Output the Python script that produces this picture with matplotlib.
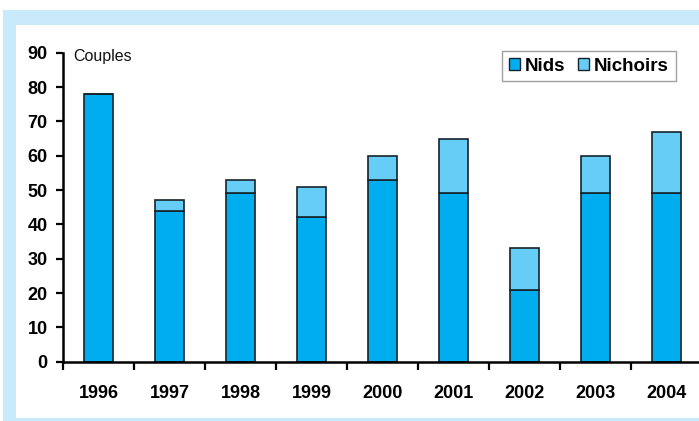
import matplotlib
matplotlib.use("Agg")
import matplotlib.pyplot as plt
from matplotlib.patches import Rectangle, Patch
import numpy as np

years = ["1996", "1997", "1998", "1999", "2000", "2001", "2002", "2003", "2004"]
nids = [78, 44, 49, 42, 53, 49, 21, 49, 49]
nichoirs = [0, 3, 4, 9, 7, 16, 12, 11, 18]
yticks = [0, 10, 20, 30, 40, 50, 60, 70, 80, 90]

W, H = 699, 421
fig = plt.figure(figsize=(W / 100, H / 100), dpi=100)
fig.patches.append(Rectangle((3 / W, 0), 1, (H - 10) / H, transform=fig.transFigure,
                             facecolor="#C8EAFA", edgecolor="none", zorder=-2))
fig.patches.append(Rectangle((16 / W, 3 / H), 1, (H - 25 - 3) / H, transform=fig.transFigure,
                             facecolor="white", edgecolor="none", zorder=-1))

x0, y0, ytop = 63, 361.7, 52.7
step = 71
ax = fig.add_axes([x0 / W, (H - y0) / H, 9 * step / W, (y0 - ytop) / H])
ax.patch.set_alpha(0)
x = np.arange(len(years))
c1, c2 = "#00AEEF", "#66CDF6"
ec = "#15232b"
ax.bar(x, nids, width=0.41, color=c1, edgecolor=ec, linewidth=1.2, label="Nids", zorder=2)
ax.bar(x, nichoirs, width=0.41, bottom=nids, color=c2, edgecolor=ec, linewidth=1.2,
       label="Nichoirs", zorder=2)
ax.set_xlim(-0.5, len(years) - 0.5)
ax.set_ylim(0, 90)
ax.set_yticks(yticks)
ax.set_yticklabels([str(v) for v in yticks], fontsize=13, fontweight="bold", family="Liberation Sans")
ax.set_xticks(np.arange(-0.5, len(years) - 0.5 + 0.01, 1.0))
ax.set_xticklabels([])
ax.set_xticks(x, minor=True)
ax.set_xticklabels(years, minor=True, fontsize=13, fontweight="bold", family="Liberation Sans")
ax.tick_params(axis="x", which="minor", length=0, pad=17)
ax.tick_params(axis="x", which="major", length=6, width=1.6, direction="out")
ax.tick_params(axis="y", length=5, width=1.6, direction="out", pad=6)
for s in ["top", "right"]:
    ax.spines[s].set_visible(False)
for s in ["left", "bottom"]:
    ax.spines[s].set_linewidth(1.8)
    ax.spines[s].set_color("black")
ax.text(73 / W, (H - 57) / H, "Couples", transform=fig.transFigure, fontsize=11.5,
        family="Liberation Sans", va="center", ha="left", color="#111111")

handles = [Patch(facecolor=c1, edgecolor=ec, label="Nids"),
           Patch(facecolor=c2, edgecolor=ec, label="Nichoirs")]
leg = fig.legend(handles=handles, loc="upper left", bbox_to_anchor=(502 / W, 1 - 51 / H),
                 ncol=2, frameon=True, fancybox=False, edgecolor="#888888",
                 prop={"family": "Liberation Sans", "weight": "bold", "size": 13.5},
                 handlelength=0.6, handleheight=0.6, handletextpad=0.25, columnspacing=0.7,
                 borderpad=0.35, borderaxespad=0)
leg.get_frame().set_linewidth(1.0)

fig.savefig("out.png", dpi=100)
